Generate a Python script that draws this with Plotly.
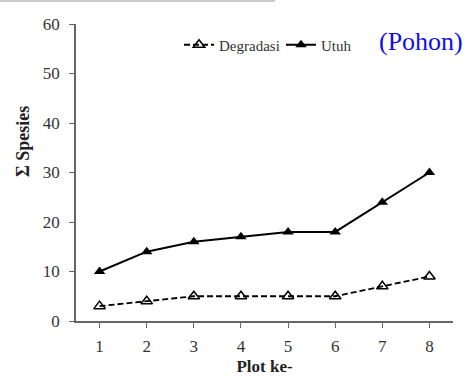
import plotly.graph_objects as go

plots = [1, 2, 3, 4, 5, 6, 7, 8]
degradasi = [3, 4, 5, 5, 5, 5, 7, 9]
utuh = [10, 14, 16, 17, 18, 18, 24, 30]
y_ticks = [0, 10, 20, 30, 40, 50, 60]

font_family = "Liberation Serif"
W, H = 467, 376
L, R, T, B = 76, 14, 24, 55
pw, ph = W - L - R, H - T - B

def px_x(x):
    return (x - L) / pw

def px_y(y):
    return (H - B - y) / ph

fig = go.Figure()
fig.add_trace(go.Scatter(
    x=plots, y=degradasi, name="Degradasi", mode="lines+markers",
    line=dict(color="black", width=1.8, dash="6px,3px"),
    marker=dict(symbol="triangle-up-open", size=10, color="black", line=dict(width=1.5, color="black")),
    legend="legend",
))
fig.add_trace(go.Scatter(
    x=plots, y=utuh, name="Utuh", mode="lines+markers",
    line=dict(color="black", width=2),
    marker=dict(symbol="triangle-up", size=10, color="black"),
    legend="legend2",
))

legend_style = dict(
    orientation="h", yanchor="middle", xanchor="left",
    font=dict(family=font_family, size=15, color="#333333"),
    itemwidth=30, bgcolor="rgba(0,0,0,0)",
)

fig.update_layout(
    width=W, height=H,
    margin=dict(l=L, r=R, t=T, b=B, autoexpand=False),
    paper_bgcolor="white", plot_bgcolor="white",
    font=dict(family=font_family, size=17, color="#333333"),
    showlegend=True,
    legend=dict(x=px_x(179), y=px_y(45), **legend_style),
    legend2=dict(x=px_x(281), y=px_y(45), **legend_style),
    xaxis=dict(
        range=[0.5, 8.5], tickmode="array", tickvals=plots, ticktext=[str(p) for p in plots],
        showline=True, linecolor="#666666", linewidth=1.5, ticks="outside", ticklen=5,
        tickcolor="#666666", showgrid=False, zeroline=False, automargin=False,
        title=dict(text="<b>Plot ke-</b>", font=dict(family=font_family, size=17, color="#222222"), standoff=10),
        tickfont=dict(family=font_family, size=17, color="#333333"),
        ticklabelstandoff=4,
    ),
    yaxis=dict(
        range=[0, 60], tickmode="array", tickvals=y_ticks,
        showline=True, linecolor="#666666", linewidth=1.5, ticks="outside", ticklen=5,
        tickcolor="#666666", showgrid=False, zeroline=False, automargin=False,
        tickfont=dict(family=font_family, size=17, color="#333333"),
        ticklabelstandoff=6,
    ),
    annotations=[
        dict(
            text="(Pohon)", x=px_x(377), y=px_y(42), xref="paper", yref="paper",
            showarrow=False, xanchor="left", yanchor="middle",
            font=dict(family=font_family, size=26, color="#1010ee"),
        ),
        dict(
            text="<b>Σ Spesies</b>", x=px_x(23), y=px_y(142), xref="paper", yref="paper",
            showarrow=False, xanchor="center", yanchor="middle", textangle=-90,
            font=dict(family=font_family, size=18, color="#222222"),
        ),
    ],
    shapes=[dict(
        type="line", xref="paper", yref="paper", layer="above",
        x0=px_x(0), x1=px_x(275), y0=px_y(1), y1=px_y(1),
        line=dict(color="#cccccc", width=2),
    )],
)

fig.write_html(
    "out.html",
    config={"displayModeBar": False},
    post_script="document.body.style.margin='0';document.body.style.padding='0';",
)
